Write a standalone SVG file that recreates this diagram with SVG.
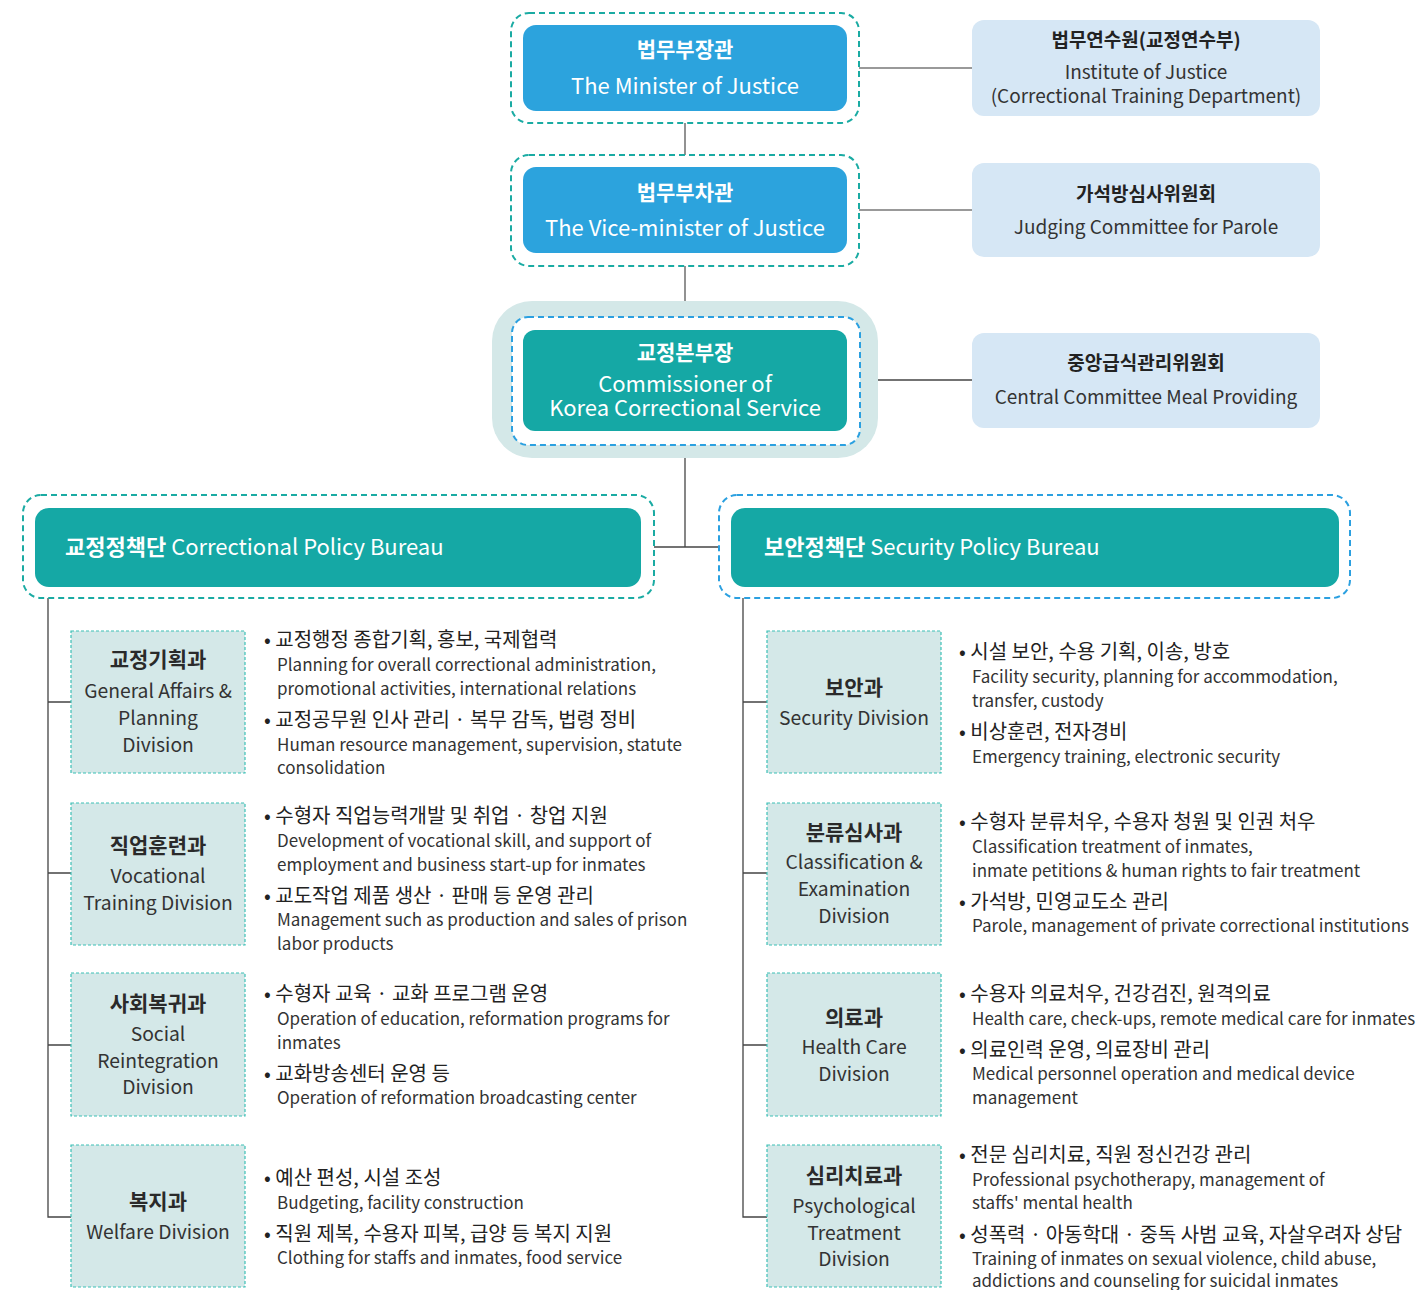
<svg xmlns="http://www.w3.org/2000/svg" width="1426" height="1290" viewBox="0 0 1426 1290">
<style>
text{font-family:"Noto Sans CJK KR","Noto Sans",sans-serif;dominant-baseline:central;transform:translateY(-2px)}
.w{fill:#fff}
.tk{font-size:21px;font-weight:700}
.te{font-size:22px}
.rk{font-size:19px;font-weight:700;fill:#222;text-anchor:middle}
.re{font-size:19px;fill:#333;text-anchor:middle}
.dk{font-size:21px;font-weight:700;fill:#2a2a2a;text-anchor:middle}
.de{font-size:19.3px;fill:#333;text-anchor:middle}
.bk{font-size:20px;fill:#222}
.be{font-size:17px;fill:#333}
.mid{text-anchor:middle}
.dashT{fill:none;stroke:#1aaba3;stroke-width:2;stroke-dasharray:6 4}
.dashB{fill:none;stroke:#2ba0e0;stroke-width:2;stroke-dasharray:6 4}
.blue{fill:#2ca3dd}
.teal{fill:#15a8a5}
.side{fill:#d6e7f5}
.div{fill:#d4e8e8;stroke:#3cc0b6;stroke-width:1.2;stroke-dasharray:3 2}
.ln{stroke:#777;stroke-width:1.6;fill:none}
.ln2{stroke:#444;stroke-width:1.3;fill:none}
</style>
<g id="connectors">
<line class="ln" x1="685" y1="123" x2="685" y2="155"/>
<line class="ln" x1="685" y1="266" x2="685" y2="301"/>
<line class="ln" x1="859" y1="68" x2="972" y2="68"/>
<line class="ln" x1="859" y1="210" x2="972" y2="210"/>
<line class="ln2" x1="878" y1="380" x2="972" y2="380"/>
<line class="ln2" x1="685" y1="458" x2="685" y2="547"/>
<line class="ln2" x1="654" y1="547" x2="719" y2="547"/>
<path class="ln2" d="M48 598V1217H71M48 702H71M48 873H71M48 1045H71"/>
<path class="ln2" d="M743 598V1217H767M743 702H767M743 873H767M743 1045H767"/>
</g>
<g id="minister">
<rect class="dashT" x="511" y="13" width="348" height="110" rx="18"/>
<rect class="blue" x="523" y="25" width="324" height="86" rx="13"/>
<text class="w tk mid" x="685" y="50">법무부장관</text>
<text class="w te mid" x="685" y="86">The Minister of Justice</text>
</g>
<g id="vice-minister">
<rect class="dashT" x="511" y="155" width="348" height="111" rx="18"/>
<rect class="blue" x="523" y="167" width="324" height="86" rx="13"/>
<text class="w tk mid" x="685" y="193">법무부차관</text>
<text class="w te mid" x="685" y="228">The Vice-minister of Justice</text>
</g>
<g id="commissioner">
<rect x="492" y="301" width="386" height="157" rx="40" fill="#d4e8e8"/>
<rect x="512" y="317" width="348" height="128" rx="16" fill="#fff"/>
<rect class="dashB" x="512" y="317" width="348" height="128" rx="16"/>
<rect class="teal" x="523" y="330" width="324" height="101" rx="12"/>
<text class="w tk mid" x="685" y="353">교정본부장</text>
<text class="w te mid" x="685" y="384">Commissioner of</text>
<text class="w te mid" x="685" y="408">Korea Correctional Service</text>
</g>
<g id="institute">
<rect class="side" x="972" y="20" width="348" height="96" rx="12"/>
<text class="rk" x="1146" y="40">법무연수원(교정연수부)</text>
<text class="re" x="1146" y="72">Institute of Justice</text>
<text class="re" x="1146" y="96">(Correctional Training Department)</text>
</g>
<g id="parole-committee">
<rect class="side" x="972" y="163" width="348" height="94" rx="12"/>
<text class="rk" x="1146" y="194">가석방심사위원회</text>
<text class="re" x="1146" y="227">Judging Committee for Parole</text>
</g>
<g id="meal-committee">
<rect class="side" x="972" y="333" width="348" height="95" rx="12"/>
<text class="rk" x="1146" y="363">중앙급식관리위원회</text>
<text class="re" x="1146" y="397">Central Committee Meal Providing</text>
</g>
<g id="correctional-policy-bureau">
<rect class="dashT" x="23" y="495" width="631" height="103" rx="18"/>
<rect class="teal" x="35" y="508" width="606" height="79" rx="14"/>
<text class="w" x="65" y="547" font-size="22"><tspan font-weight="700">교정정책단</tspan> Correctional Policy Bureau</text>
</g>
<g id="security-policy-bureau">
<rect class="dashB" x="719" y="495" width="631" height="103" rx="18"/>
<rect class="teal" x="731" y="508" width="608" height="79" rx="14"/>
<text class="w" x="764" y="547" font-size="22"><tspan font-weight="700">보안정책단</tspan> Security Policy Bureau</text>
</g>
<g id="planning-division">
<rect class="div" x="71" y="631" width="174" height="142"/>
<text class="dk" x="158" y="660">교정기획과</text>
<text class="de" x="158" y="692">General Affairs &amp;</text>
<text class="de" x="158" y="719">Planning</text>
<text class="de" x="158" y="746">Division</text>
<text class="bk" x="264" y="640">• 교정행정 종합기획, 홍보, 국제협력</text>
<text class="be" x="277" y="665">Planning for overall correctional administration,</text>
<text class="be" x="277" y="689">promotional activities, international relations</text>
<text class="bk" x="264" y="720">• 교정공무원 인사 관리 · 복무 감독, 법령 정비</text>
<text class="be" x="277" y="745">Human resource management, supervision, statute</text>
<text class="be" x="277" y="768">consolidation</text>
</g>
<g id="vocational-division">
<rect class="div" x="71" y="803" width="174" height="142"/>
<text class="dk" x="158" y="846">직업훈련과</text>
<text class="de" x="158" y="877">Vocational</text>
<text class="de" x="158" y="904">Training Division</text>
<text class="bk" x="264" y="816">• 수형자 직업능력개발 및 취업 · 창업 지원</text>
<text class="be" x="277" y="841">Development of vocational skill, and support of</text>
<text class="be" x="277" y="865">employment and business start-up for inmates</text>
<text class="bk" x="264" y="896">• 교도작업 제품 생산 · 판매 등 운영 관리</text>
<text class="be" x="277" y="920">Management such as production and sales of prison</text>
<text class="be" x="277" y="944">labor products</text>
</g>
<g id="social-division">
<rect class="div" x="71" y="973" width="174" height="143"/>
<text class="dk" x="158" y="1004">사회복귀과</text>
<text class="de" x="158" y="1035">Social</text>
<text class="de" x="158" y="1062">Reintegration</text>
<text class="de" x="158" y="1088">Division</text>
<text class="bk" x="264" y="994">• 수형자 교육 · 교화 프로그램 운영</text>
<text class="be" x="277" y="1019">Operation of education, reformation programs for</text>
<text class="be" x="277" y="1043">inmates</text>
<text class="bk" x="264" y="1074">• 교화방송센터 운영 등</text>
<text class="be" x="277" y="1098">Operation of reformation broadcasting center</text>
</g>
<g id="welfare-division">
<rect class="div" x="71" y="1145" width="174" height="142"/>
<text class="dk" x="158" y="1202">복지과</text>
<text class="de" x="158" y="1233">Welfare Division</text>
<text class="bk" x="264" y="1178">• 예산 편성, 시설 조성</text>
<text class="be" x="277" y="1203">Budgeting, facility construction</text>
<text class="bk" x="264" y="1234">• 직원 제복, 수용자 피복, 급양 등 복지 지원</text>
<text class="be" x="277" y="1258">Clothing for staffs and inmates, food service</text>
</g>
<g id="security-division">
<rect class="div" x="767" y="631" width="174" height="142"/>
<text class="dk" x="854" y="688">보안과</text>
<text class="de" x="854" y="719">Security Division</text>
<text class="bk" x="959" y="652">• 시설 보안, 수용 기획, 이송, 방호</text>
<text class="be" x="972" y="677">Facility security, planning for accommodation,</text>
<text class="be" x="972" y="701">transfer, custody</text>
<text class="bk" x="959" y="732">• 비상훈련, 전자경비</text>
<text class="be" x="972" y="757">Emergency training, electronic security</text>
</g>
<g id="classification-division">
<rect class="div" x="767" y="803" width="174" height="142"/>
<text class="dk" x="854" y="833">분류심사과</text>
<text class="de" x="854" y="863">Classification &amp;</text>
<text class="de" x="854" y="890">Examination</text>
<text class="de" x="854" y="917">Division</text>
<text class="bk" x="959" y="822">• 수형자 분류처우, 수용자 청원 및 인권 처우</text>
<text class="be" x="972" y="847">Classification treatment of inmates,</text>
<text class="be" x="972" y="871">inmate petitions &amp; human rights to fair treatment</text>
<text class="bk" x="959" y="902">• 가석방, 민영교도소 관리</text>
<text class="be" x="972" y="926">Parole, management of private correctional institutions</text>
</g>
<g id="health-division">
<rect class="div" x="767" y="973" width="174" height="143"/>
<text class="dk" x="854" y="1018">의료과</text>
<text class="de" x="854" y="1048">Health Care</text>
<text class="de" x="854" y="1075">Division</text>
<text class="bk" x="959" y="994">• 수용자 의료처우, 건강검진, 원격의료</text>
<text class="be" x="972" y="1019">Health care, check-ups, remote medical care for inmates</text>
<text class="bk" x="959" y="1050">• 의료인력 운영, 의료장비 관리</text>
<text class="be" x="972" y="1074">Medical personnel operation and medical device</text>
<text class="be" x="972" y="1098">management</text>
</g>
<g id="psychological-division">
<rect class="div" x="767" y="1145" width="174" height="142"/>
<text class="dk" x="854" y="1176">심리치료과</text>
<text class="de" x="854" y="1207">Psychological</text>
<text class="de" x="854" y="1234">Treatment</text>
<text class="de" x="854" y="1260">Division</text>
<text class="bk" x="959" y="1155">• 전문 심리치료, 직원 정신건강 관리</text>
<text class="be" x="972" y="1180">Professional psychotherapy, management of</text>
<text class="be" x="972" y="1203">staffs' mental health</text>
<text class="bk" x="959" y="1235">• 성폭력 · 아동학대 · 중독 사범 교육, 자살우려자 상담</text>
<text class="be" x="972" y="1259">Training of inmates on sexual violence, child abuse,</text>
<text class="be" x="972" y="1281">addictions and counseling for suicidal inmates</text>
</g>
</svg>
